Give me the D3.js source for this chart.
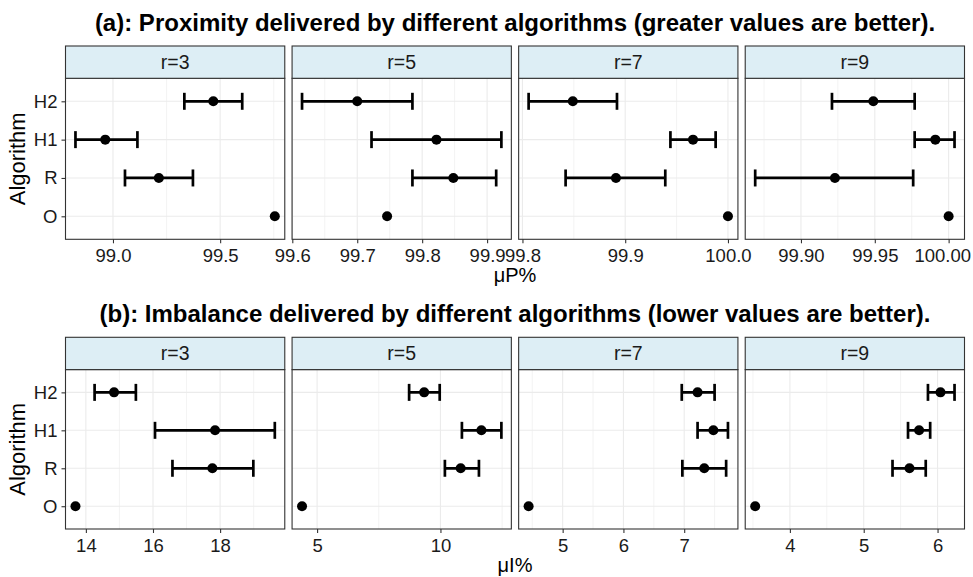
<!DOCTYPE html>
<html>
<head>
<meta charset="utf-8">
<script src="https://cdn.jsdelivr.net/npm/d3@7"></script>
<style>
  body { margin: 0; background: #fff; }
  text { font-family: "Liberation Sans", Arial, sans-serif; }
</style>
</head>
<body>
<div id="chart"></div>
<script>
// facets and categories
var radii = ["r=3", "r=5", "r=7", "r=9"];
var algorithms = ["O", "R", "H1", "H2"];   // bottom -> top

// (a) proximity, rows follow algorithms, columns follow radii
var proxMean = [
    [99.755, 99.746, 100.000, 100.000],
    [99.214, 99.848, 99.891, 99.923],
    [98.964, 99.822, 99.966, 99.991],
    [99.468, 99.700, 99.849, 99.949]
];
var proxLow = [
    [null, null, null, null],
    [99.056, 99.785, 99.842, 99.869],
    [98.825, 99.722, 99.944, 99.977],
    [99.333, 99.615, 99.806, 99.921]
];
var proxHigh = [
    [null, null, null, null],
    [99.373, 99.914, 99.939, 99.976],
    [99.114, 99.922, 99.988, 100.004],
    [99.603, 99.785, 99.892, 99.977]
];
var proxTicks = [[99.0, 99.5], [99.6, 99.7, 99.8, 99.9], [99.8, 99.9, 100.0], [99.90, 99.95, 100.00]];
var proxTickFormat = [".1f", ".1f", ".1f", ".2f"];

// (b) imbalance
var imbMean = [
    [13.69, 4.39, 4.44, 3.53],
    [17.77, 10.82, 7.33, 5.62],
    [17.85, 11.66, 7.48, 5.75],
    [14.84, 9.34, 7.22, 6.04]
];
var imbLow = [
    [null, null, null, null],
    [16.58, 10.18, 6.97, 5.39],
    [16.06, 10.87, 7.22, 5.60],
    [14.26, 8.73, 6.96, 5.87]
];
var imbHigh = [
    [null, null, null, null],
    [18.99, 11.56, 7.69, 5.84],
    [19.63, 12.47, 7.72, 5.90],
    [15.49, 9.97, 7.50, 6.23]
];
var imbTicks = [[14, 16, 18], [5, 10], [5, 6, 7], [4, 5, 6]];
var imbTickFormat = ["d", "d", "d", "d"];

var svgWidth = 973;
var svgHeight = 577;

var plotLeft = 65.5;
var plotRight = 964.5;
var panelGap = 7.3;
var panelWidth = (plotRight - plotLeft - 3 * panelGap) / 4;
var stripHeight = 32.3;

var svg = d3.select("#chart")
    .append("svg")
    .attr("width", svgWidth)
    .attr("height", svgHeight);

function drawRow(opts) {
    var g = svg.append("g");
    var panelTop = opts.stripTop + stripHeight;

    // title
    g.append("text")
        .attr("x", (plotLeft + plotRight) / 2)
        .attr("y", opts.titleY)
        .attr("text-anchor", "middle")
        .style("font-weight", "bold")
        .style("font-size", "24px")
        .style("fill", "#000")
        .text(opts.title);

    var y = d3.scalePoint()
        .domain(algorithms)
        .range([opts.panelBottom, panelTop])
        .padding(0.6);

    radii.forEach(function(r, j) {
        var x0 = plotLeft + j * (panelWidth + panelGap);

        // data of this facet
        var rows = algorithms.map(function(a, i) {
            return {alg: a, mean: opts.mean[i][j], lo: opts.low[i][j], hi: opts.high[i][j]};
        });
        var vals = [];
        rows.forEach(function(d) {
            vals.push(d.mean);
            if (d.lo != null) vals.push(d.lo, d.hi);
        });
        var ext = d3.extent(vals);
        var pad = (ext[1] - ext[0]) * 0.05;

        var x = d3.scaleLinear()
            .domain([ext[0] - pad, ext[1] + pad])
            .range([x0, x0 + panelWidth]);

        var ticks = opts.ticks[j];
        var step = ticks[1] - ticks[0];
        var minor = [];
        for (var k = -1; k < ticks.length; k++) {
            var m = ticks[0] + step / 2 + k * step;
            if (m > x.domain()[0] && m < x.domain()[1]) minor.push(m);
        }

        var panel = g.append("g");

        panel.append("rect")
            .attr("x", x0).attr("y", panelTop)
            .attr("width", panelWidth).attr("height", opts.panelBottom - panelTop)
            .attr("fill", "#fff");

        // grid
        panel.selectAll(".minor")
            .data(minor)
            .enter().append("line")
            .attr("x1", d => x(d)).attr("x2", d => x(d))
            .attr("y1", panelTop).attr("y2", opts.panelBottom)
            .attr("stroke", "#EBEBEB").attr("stroke-width", 0.6);
        panel.selectAll(".major")
            .data(ticks)
            .enter().append("line")
            .attr("x1", d => x(d)).attr("x2", d => x(d))
            .attr("y1", panelTop).attr("y2", opts.panelBottom)
            .attr("stroke", "#EBEBEB").attr("stroke-width", 1.1);
        panel.selectAll(".hgrid")
            .data(algorithms)
            .enter().append("line")
            .attr("x1", x0).attr("x2", x0 + panelWidth)
            .attr("y1", d => y(d)).attr("y2", d => y(d))
            .attr("stroke", "#EBEBEB").attr("stroke-width", 1.1);

        // error bars
        var bars = rows.filter(d => d.lo != null);
        panel.selectAll(".bar")
            .data(bars)
            .enter().append("line")
            .attr("x1", d => x(d.lo)).attr("x2", d => x(d.hi))
            .attr("y1", d => y(d.alg)).attr("y2", d => y(d.alg))
            .attr("stroke", "#000").attr("stroke-width", 2.7);
        panel.selectAll(".capL")
            .data(bars)
            .enter().append("line")
            .attr("x1", d => x(d.lo)).attr("x2", d => x(d.lo))
            .attr("y1", d => y(d.alg) - 8.5).attr("y2", d => y(d.alg) + 8.5)
            .attr("stroke", "#000").attr("stroke-width", 2.7);
        panel.selectAll(".capR")
            .data(bars)
            .enter().append("line")
            .attr("x1", d => x(d.hi)).attr("x2", d => x(d.hi))
            .attr("y1", d => y(d.alg) - 8.5).attr("y2", d => y(d.alg) + 8.5)
            .attr("stroke", "#000").attr("stroke-width", 2.7);

        panel.selectAll("circle")
            .data(rows)
            .enter().append("circle")
            .attr("cx", d => x(d.mean))
            .attr("cy", d => y(d.alg))
            .attr("r", 5)
            .attr("fill", "#000");

        // border
        panel.append("rect")
            .attr("x", x0).attr("y", panelTop)
            .attr("width", panelWidth).attr("height", opts.panelBottom - panelTop)
            .attr("fill", "none").attr("stroke", "#333333").attr("stroke-width", 1.1);

        // strip
        panel.append("rect")
            .attr("x", x0).attr("y", opts.stripTop)
            .attr("width", panelWidth).attr("height", stripHeight)
            .attr("fill", "#DDEEF5").attr("stroke", "#333333").attr("stroke-width", 1.1);
        panel.append("text")
            .attr("x", x0 + panelWidth / 2)
            .attr("y", opts.stripTop + stripHeight / 2)
            .attr("dy", "0.35em")
            .attr("text-anchor", "middle")
            .style("font-size", "19.5px")
            .style("fill", "#1A1A1A")
            .text(r);

        // x axis
        var axis = d3.axisBottom(x)
            .tickValues(ticks)
            .tickSize(4)
            .tickPadding(6)
            .tickFormat(d3.format(opts.tickFormat[j]));
        var ax = g.append("g")
            .attr("transform", `translate(0, ${opts.panelBottom})`)
            .call(axis);
        ax.select(".domain").remove();
        ax.selectAll(".tick line").attr("stroke", "#333333").attr("stroke-width", 1.1);
        ax.selectAll(".tick text")
            .style("font-size", "18.5px")
            .style("font-family", "Liberation Sans, Arial, sans-serif")
            .attr("fill", "#1A1A1A");
        // keep the last label inside the picture
        ax.selectAll(".tick text").each(function() {
            var b = this.getBBox();
            var right = this.parentNode.transform.baseVal.consolidate().matrix.e + b.x + b.width;
            if (right > svgWidth - 2) d3.select(this).attr("x", svgWidth - 2 - right);
        });
    });

    // y axis on the left panel only
    var yAxis = d3.axisLeft(y).tickSize(4).tickPadding(4);
    var ay = g.append("g")
        .attr("transform", `translate(${plotLeft}, 0)`)
        .call(yAxis);
    ay.select(".domain").remove();
    ay.selectAll(".tick line").attr("stroke", "#333333").attr("stroke-width", 1.1);
    ay.selectAll(".tick text")
        .style("font-size", "18.5px")
        .style("font-family", "Liberation Sans, Arial, sans-serif")
        .attr("fill", "#1A1A1A");

    // axis titles
    g.append("text")
        .attr("transform", `translate(25, ${(panelTop + opts.panelBottom) / 2}) rotate(-90)`)
        .attr("text-anchor", "middle")
        .style("font-size", "22px")
        .style("fill", "#000")
        .text("Algorithm");

    g.append("text")
        .attr("x", (plotLeft + plotRight) / 2)
        .attr("y", opts.panelBottom + 43)
        .attr("text-anchor", "middle")
        .style("font-size", "20px")
        .style("fill", "#000")
        .text(opts.xTitle);
}

drawRow({
    title: "(a): Proximity delivered by different algorithms (greater values are better).",
    titleY: 31,
    stripTop: 46,
    panelBottom: 239.3,
    mean: proxMean, low: proxLow, high: proxHigh,
    ticks: proxTicks, tickFormat: proxTickFormat,
    xTitle: "\u03bcP%"
});

drawRow({
    title: "(b): Imbalance delivered by different algorithms (lower values are better).",
    titleY: 322,
    stripTop: 337.3,
    panelBottom: 529,
    mean: imbMean, low: imbLow, high: imbHigh,
    ticks: imbTicks, tickFormat: imbTickFormat,
    xTitle: "\u03bcI%"
});
</script>
</body>
</html>
